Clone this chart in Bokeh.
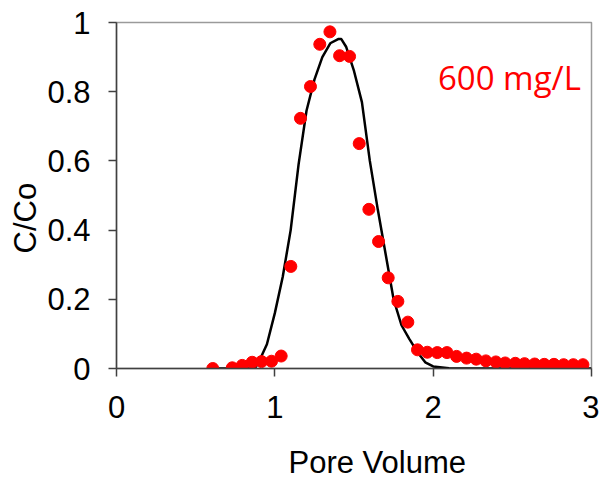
from bokeh.plotting import figure
from bokeh.models import FixedTicker, NumeralTickFormatter, Label, Range1d, Title
from bokeh.embed import file_html
from bokeh.resources import INLINE

# Observed breakthrough data (pore volume vs C/Co)
pv_obs = [0.608, 0.731, 0.794, 0.857, 0.916, 0.979, 1.040, 1.101, 1.162, 1.225,
          1.284, 1.348, 1.409, 1.472, 1.533, 1.594, 1.655, 1.716, 1.777, 1.840,
          1.901, 1.963, 2.026, 2.087, 2.148, 2.211, 2.272, 2.333, 2.396, 2.455,
          2.519, 2.577, 2.641, 2.702, 2.763, 2.824, 2.885, 2.946]
c_obs = [0.000, 0.002, 0.009, 0.018, 0.020, 0.021, 0.036, 0.295, 0.723, 0.815,
         0.937, 0.973, 0.904, 0.902, 0.650, 0.460, 0.367, 0.262, 0.194, 0.134,
         0.054, 0.047, 0.046, 0.046, 0.035, 0.030, 0.027, 0.022, 0.019, 0.016,
         0.015, 0.014, 0.013, 0.012, 0.012, 0.011, 0.011, 0.011]

# Model curve
pv_model = [0.60, 0.85, 0.88, 0.90, 0.95, 1.00, 1.05, 1.10, 1.15, 1.20, 1.25,
            1.30, 1.35, 1.40, 1.42, 1.45, 1.50, 1.55, 1.60, 1.65, 1.70, 1.75,
            1.80, 1.85, 1.90, 1.95, 2.00, 2.10, 2.20, 3.00]
c_model = [0.000, 0.000, 0.005, 0.020, 0.070, 0.160, 0.265, 0.400, 0.590, 0.745,
           0.835, 0.900, 0.940, 0.952, 0.952, 0.930, 0.860, 0.770, 0.600, 0.460,
           0.330, 0.200, 0.125, 0.085, 0.048, 0.018, 0.006, 0.001, 0.000, 0.000]

x_ticks = [0, 1, 2, 3]
y_ticks = [0, 0.2, 0.4, 0.6, 0.8, 1.0]
label_text = "600 mg/L"
x_title = "Pore Volume"
y_title = "C/Co"

p = figure(width=599, height=482, output_backend="svg", toolbar_location=None,
           x_range=Range1d(0, 3), y_range=Range1d(0, 1))
p.min_border_left = 116
p.min_border_right = 8
p.min_border_top = 22
p.min_border_bottom = 114
p.background_fill_color = "white"
p.border_fill_color = "white"
p.outline_line_color = "#9a9a9a"
p.outline_line_width = 1.5
p.xgrid.visible = False
p.ygrid.visible = False

font = "Liberation Sans"
for ax in (p.xaxis[0], p.yaxis[0]):
    ax.axis_line_color = "#404040"
    ax.axis_line_width = 1.5
    ax.major_tick_line_color = "#404040"
    ax.major_tick_line_width = 1.5
    ax.major_tick_in = 0
    ax.major_tick_out = 8
    ax.minor_tick_line_color = None
    ax.major_label_text_font = font
    ax.major_label_text_font_size = "31px"
    ax.major_label_text_color = "black"
    ax.axis_label_text_font = font
    ax.axis_label_text_font_size = "31px"
    ax.axis_label_text_font_style = "normal"
    ax.axis_label_text_color = "black"
    ax.formatter = NumeralTickFormatter(format="0.[0]")

p.xaxis.ticker = FixedTicker(ticks=x_ticks)
p.yaxis.ticker = FixedTicker(ticks=y_ticks)
p.xaxis.major_label_standoff = 19
p.yaxis.major_label_standoff = 18

# x title sits right of centre in the original: pad with en spaces
p.xaxis.axis_label = "\u2002\u2002\u2002" + x_title
p.xaxis.axis_label_standoff = 24

p.line(pv_model, c_model, line_color="black", line_width=2.5)
p.scatter(pv_obs, c_obs, size=12, fill_color="#ff0000", line_color="#ff0000")

# y title, offset below the centre as in the original
p.add_layout(Title(text=y_title, align="left", offset=115, vertical_align="bottom",
                   standoff=4, text_font=font, text_font_size="31px",
                   text_font_style="normal", text_color="black"), "left")

lab = Label(x=2.03, y=0.842, text=label_text, text_color="#ff0000",
            text_font="Open Sans", text_font_size="33px", text_baseline="alphabetic")
p.add_layout(lab)

open("out.html", "w").write(file_html(p, INLINE))
